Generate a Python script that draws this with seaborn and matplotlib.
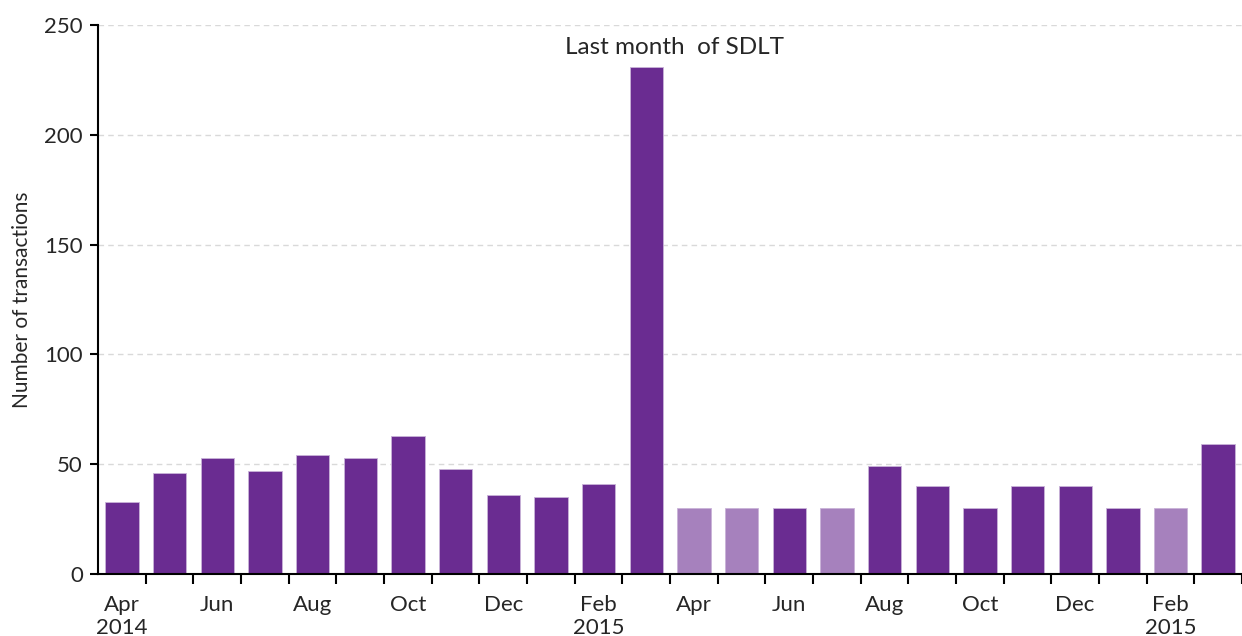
import matplotlib
matplotlib.use("Agg")
import matplotlib.pyplot as plt
import pandas as pd
import seaborn as sns

# monthly data, Apr 2014 - Mar 2016
months = ["2014-04", "2014-05", "2014-06", "2014-07", "2014-08", "2014-09",
          "2014-10", "2014-11", "2014-12", "2015-01", "2015-02", "2015-03",
          "2015-04", "2015-05", "2015-06", "2015-07", "2015-08", "2015-09",
          "2015-10", "2015-11", "2015-12", "2016-01", "2016-02", "2016-03"]
transactions = [33, 46, 53, 47, 54, 53, 63, 48, 36, 35, 41, 231,
                30, 30, 30, 30, 49, 40, 30, 40, 40, 30, 30, 59]
kind = ["actual"] * 12 + ["estimate", "estimate", "actual", "estimate",
        "actual", "actual", "actual", "actual", "actual", "actual",
        "estimate", "actual"]
tick_labels = ["Apr\n2014", "", "Jun", "", "Aug", "", "Oct", "", "Dec", "",
               "Feb\n2015", "", "Apr", "", "Jun", "", "Aug", "", "Oct", "",
               "Dec", "", "Feb\n2015", ""]

df = pd.DataFrame({"month": months, "transactions": transactions, "kind": kind})

sns.set_style("white")
plt.rcParams['font.family'] = ['Lato', 'DejaVu Sans']

fig = plt.figure(figsize=(12.42, 6.36), dpi=100)
ax = fig.add_axes([0.079, 0.0975, 0.921, 0.863])

sns.barplot(data=df, x="month", y="transactions", hue="kind", order=months,
            palette={"actual": "#6a2c91", "estimate": "#a681bd"},
            saturation=1, dodge=False, width=0.7, legend=False,
            edgecolor="#c9b3d8", linewidth=0.6, ax=ax, zorder=2)

ax.set_ylim(0, 250)
ax.set_xlim(-0.5, len(months) - 0.5)
ax.set_yticks(range(0, 251, 50))
ax.tick_params(axis="y", labelsize=16, length=6, width=1.5, direction="out",
               left=True, color="black", pad=5)
ax.yaxis.grid(True, linestyle=(0, (4, 3)), color="#d9d9d9", linewidth=1, zorder=0)
ax.set_axisbelow(True)

ax.set_xticks(range(len(months)))
ax.set_xticklabels(tick_labels, fontsize=16, linespacing=1.2)
ax.set_xticks([i - 0.5 for i in range(1, len(months) + 1)], minor=True)
ax.tick_params(axis="x", which="major", length=0, pad=15)
ax.tick_params(axis="x", which="minor", length=7, width=1.5, direction="out",
               bottom=True, color="black")
for lbl in ax.get_xticklabels():
    lbl.set_verticalalignment("top")

ax.set_xlabel("")
ax.set_ylabel("Number of transactions", fontsize=15, labelpad=9)

for side in ["top", "right"]:
    ax.spines[side].set_visible(False)
ax.spines["left"].set_color("black")
ax.spines["left"].set_linewidth(1.5)
ax.spines["bottom"].set_color("black")
ax.spines["bottom"].set_linewidth(1.5)

ax.text(11.6, 240, "Last month  of SDLT", ha="center", va="center", fontsize=17.5)

fig.savefig("out.png", dpi=100)
